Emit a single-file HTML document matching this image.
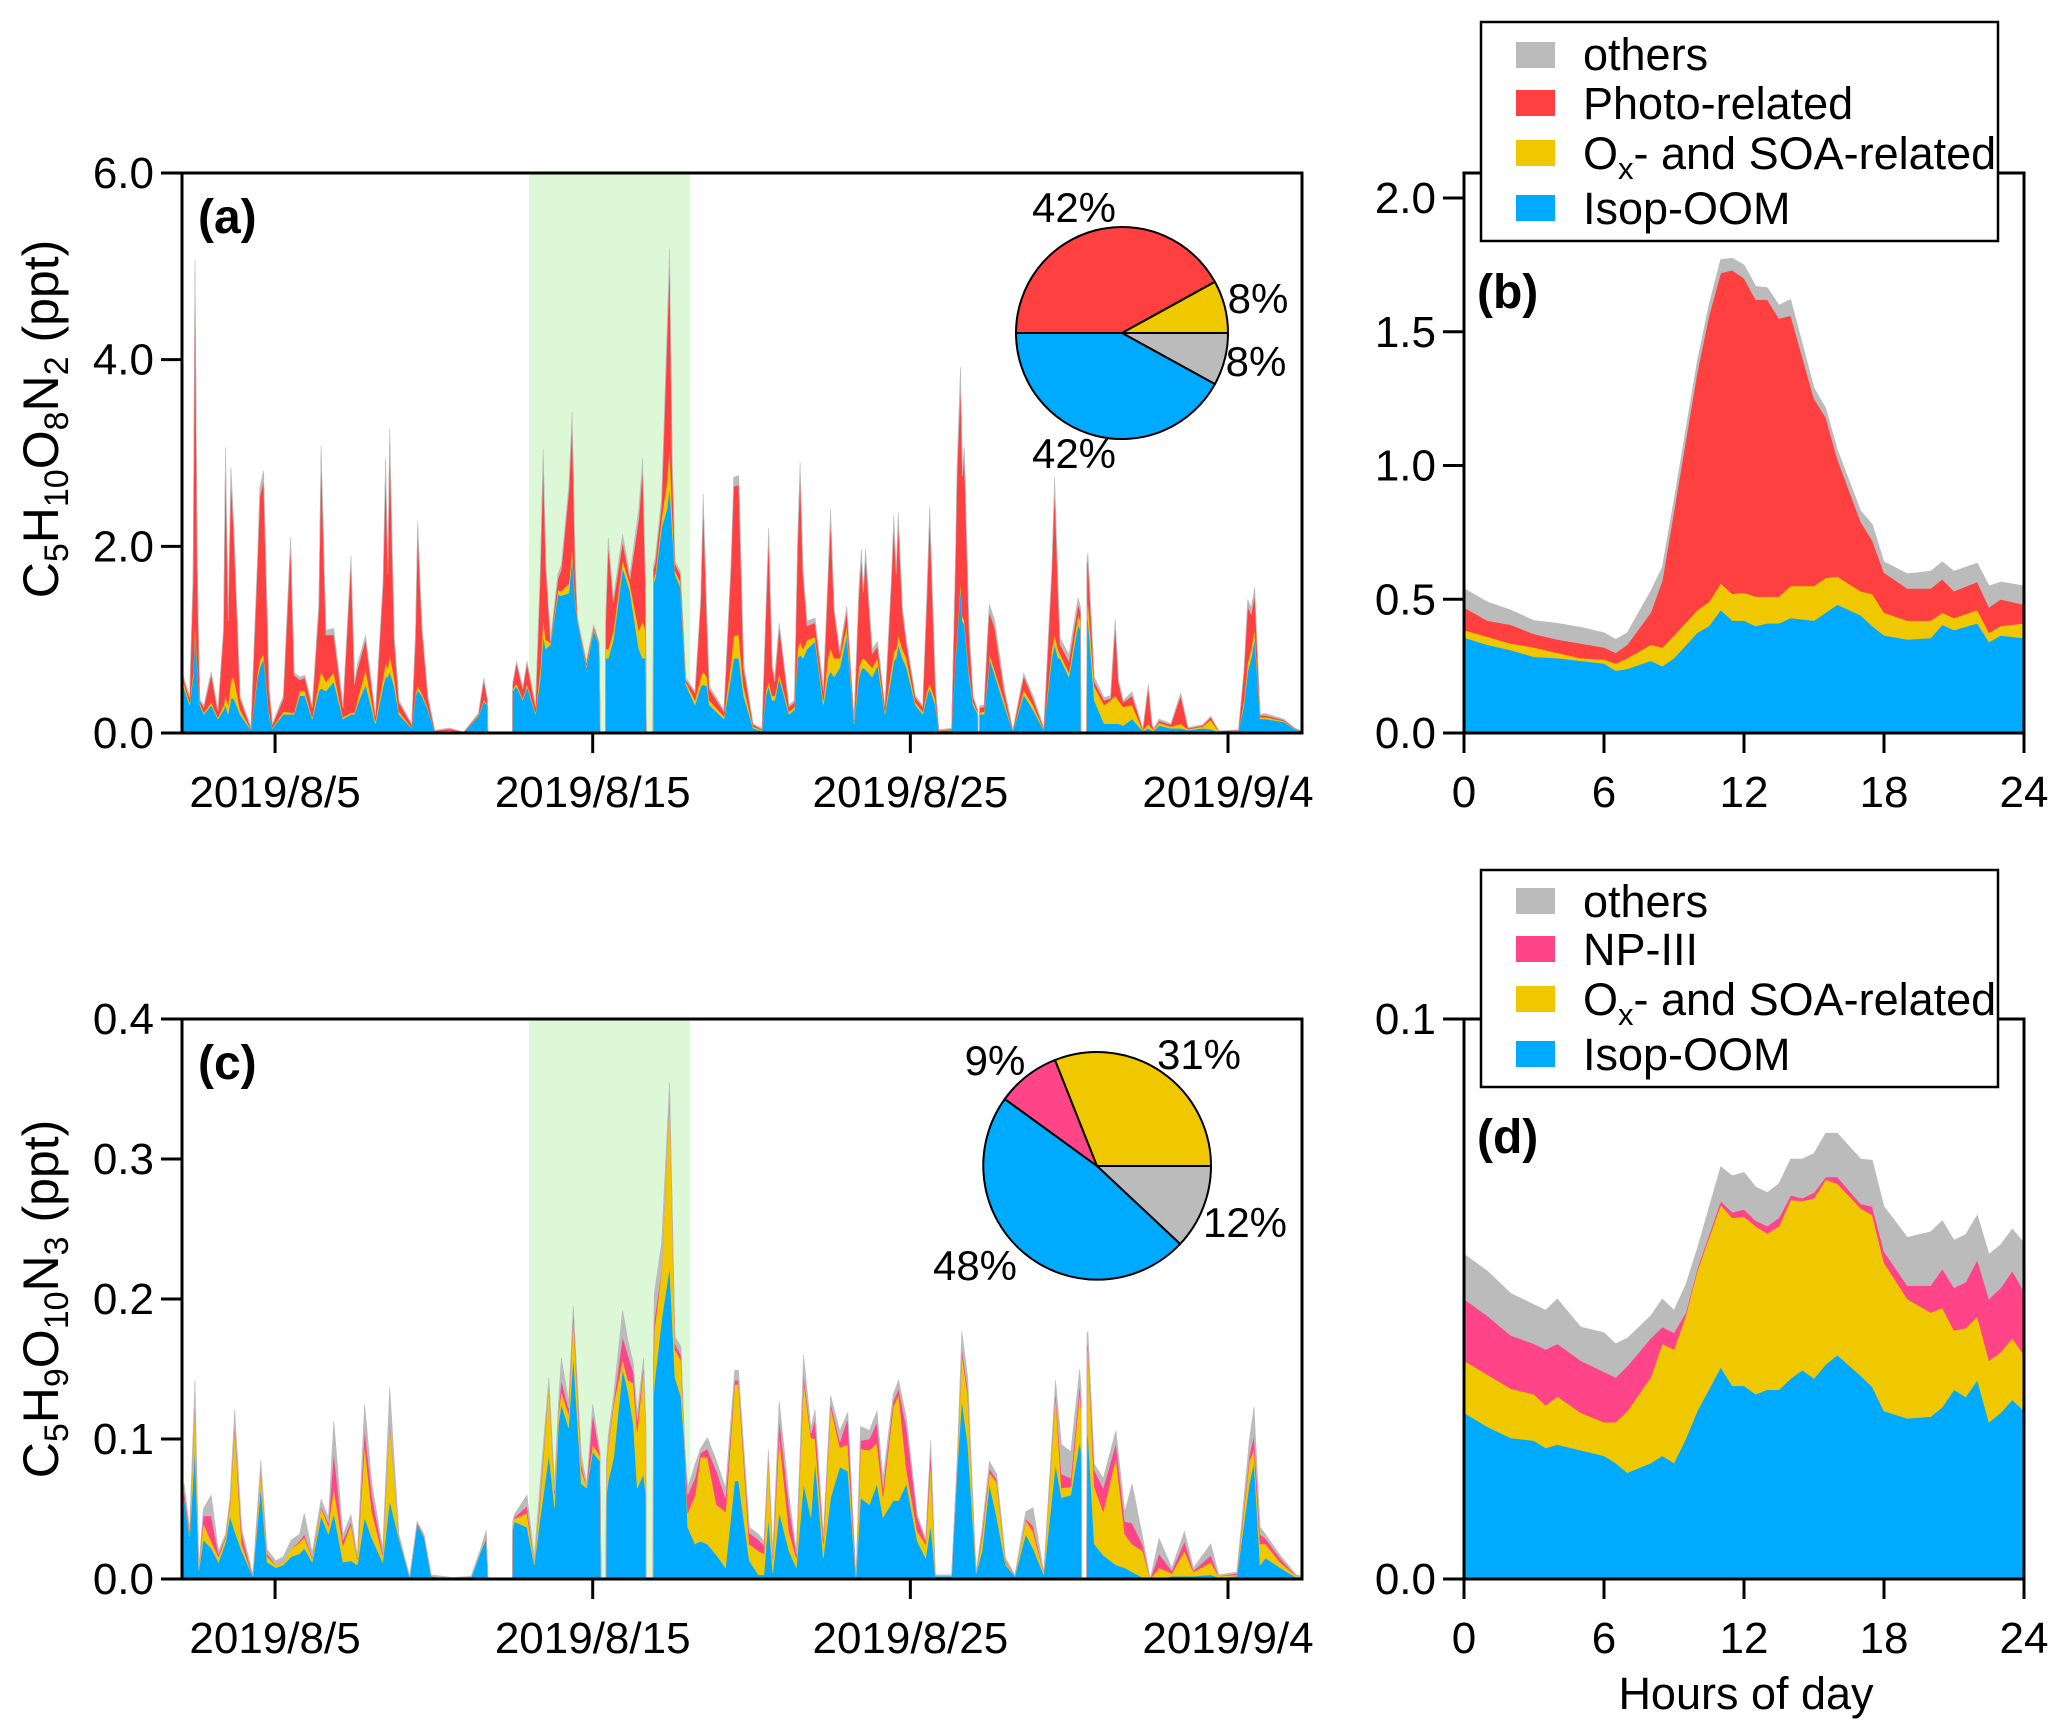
<!DOCTYPE html>
<html><head><meta charset="utf-8"><style>
html,body{margin:0;padding:0;background:#fff;}
svg{display:block;font-family:"Liberation Sans",Arial,sans-serif;}
</style></head><body>
<svg id="fig" width="2067" height="1736" viewBox="0 0 2067 1736" xmlns="http://www.w3.org/2000/svg">
<rect x="0" y="0" width="2067" height="1736" fill="#fff"/>
<g id="layer-shade"></g>
<g id="layer-areas"></g>
<g id="layer-axes" stroke="#000" stroke-width="3" fill="none"></g>
<g id="layer-text" font-size="44" fill="#000"></g>
<g id="layer-pies"></g>
<g id="layer-legends"></g>
</svg>
<script>
// ---------- Panel (a) data: days since 2019/8/2 00:00 ----------
const aT = [0.07,0.31,0.42,0.48,0.55,0.63,0.76,0.99,1.2,1.38,
1.44,1.52,1.61,1.7,1.9,2.24,2.45,2.52,2.64,2.81,
2.92,3.26,3.49,3.6,3.77,3.94,4.17,4.38,4.45,4.6,
4.85,5.14,5.39,5.5,5.59,5.85,6.16,6.4,6.48,6.55,
6.61,6.75,6.9,7.3,7.42,7.49,7.62,7.81,8.03,8.49,
8.94,9.4,9.57,9.68,9.7,10.47,10.48,10.6,10.8,10.93,
11.2,11.35,11.44,11.52,11.67,11.9,12.01,12.25,12.35,12.45,
12.52,12.8,13.03,13.2,13.24,13.4,13.41,13.49,13.65,13.94,
14.17,14.45,14.57,14.66,14.69,14.9,14.91,14.97,15.17,15.34,
15.42,15.5,15.59,15.76,15.93,16.22,16.4,16.48,16.6,16.67,
17.13,17.35,17.44,17.6,17.75,18.05,18.33,18.45,18.54,18.65,
18.73,18.87,19.18,19.35,19.45,19.53,19.62,19.75,20.0,20.26,
20.4,20.49,20.6,20.78,21.0,21.23,21.38,21.46,21.52,21.59,
21.8,21.97,22.2,22.4,22.48,22.55,22.62,22.75,22.88,23.16,
23.39,23.52,23.61,23.79,23.9,24.3,24.42,24.47,24.58,24.64,
24.7,24.85,24.98,25.12,25.14,25.17,25.18,25.32,25.45,25.49,
25.66,25.95,26.23,26.57,26.86,27.2,27.45,27.54,27.65,27.71,
27.99,28.28,28.36,28.37,28.55,28.56,28.59,28.79,29.1,29.3,
29.45,29.55,29.7,29.98,30.32,30.49,30.6,30.66,30.83,31.2,
31.51,31.74,32.2,32.46,32.71,33.33,33.5,33.62,33.73,33.84,
34.01,34.18,34.75,35.1,35.33];
const aIso = [.55,.3,.6,1.1,.7,.3,.2,.3,.15,.25,
.3,.2,.37,.37,.2,.03,.6,.7,.8,.2,
.05,.2,.2,.2,.4,.4,.15,.45,.48,.45,
.55,.15,.2,.2,.3,.52,.1,.5,.6,.6,
.66,.5,.2,.05,.4,.46,.4,.25,.01,.02,
0,.18,.34,.3,0,0,.45,.5,.35,.5,
.2,.6,1.05,.9,.95,1.48,1.47,1.5,1.9,1.4,
1.2,.7,1.1,.95,0,0,.8,.8,1.0,1.77,
1.52,.9,.8,.8,0,0,1.6,1.66,2.2,2.4,
2.65,2.2,1.7,1.56,.52,.3,.5,.52,.5,.3,
.15,.6,.8,.8,.4,.05,.02,.4,.5,.35,
.35,.59,.2,.25,.8,.84,.8,.9,.98,.3,
.6,.66,.6,.7,1.05,.1,.6,.68,.7,.68,
.6,.73,.2,.6,.77,.8,.95,.8,.7,.3,
.2,.4,.48,.3,.02,.03,.8,.98,1.59,1.2,
1.16,.6,.3,.2,0,0,.2,.2,.6,.8,
.62,.3,.02,.41,.25,.03,.8,.95,.8,.8,
.6,1.16,1.1,0,0,1.2,1.23,.35,.1,.1,
.1,.1,.08,.15,.02,.05,.03,.02,.08,.05,
.05,.03,.05,.04,.01,.02,.3,.66,.8,1.02,
.15,.15,.12,.04,.02];
const aOx = [.05,.03,.05,.11,.05,.02,.02,.03,.02,.05,
.1,.1,.2,.23,.05,.01,.05,.08,.05,.03,
.01,.03,.02,.02,.05,.05,.02,.1,.18,.1,
.1,.02,.02,.02,.05,.16,.03,.1,.15,.1,
.18,.1,.03,.01,.03,.04,.03,.02,.005,.005,
0,.01,.02,.01,0,0,.02,.03,.02,.03,
.02,.1,.18,.1,.02,.05,.05,.1,.1,.05,
.01,.02,.02,.01,0,0,.1,.1,.1,.08,
.08,.2,.4,.3,0,0,.05,.05,.1,.3,
.45,.2,.04,.06,.03,.05,.1,.14,.1,.05,
.03,.15,.24,.25,.1,.02,.01,.05,.05,.05,
.05,.05,.03,.03,.1,.14,.1,.1,.05,.05,
.2,.25,.2,.1,.1,.02,.1,.1,.1,.1,
.1,.08,.03,.1,.1,.1,.1,.1,.1,.03,
.03,.05,.05,.05,.005,.005,.05,.05,.06,.05,
.05,.05,.03,.02,0,0,.02,.03,.05,.05,
.05,.05,.005,.05,.05,.01,.1,.1,.1,.05,
.05,.1,.1,0,0,.1,.2,.15,.2,.25,
.3,.25,.2,.15,.01,.05,.02,.01,.03,.02,
.05,.01,.02,.1,.005,.005,.05,.1,.1,.1,
.02,.02,.01,.005,0];
const aPhoto = [.02,.05,1.0,3.73,1.0,.02,.06,.3,.06,.8,
2.56,.9,2.15,1.55,.12,.01,1.2,1.75,1.86,.24,
.03,.14,1.82,.4,.12,.14,.1,.8,2.32,.5,
.4,.1,1.62,.3,.33,.32,.05,1.0,2.1,1.0,
2.27,.4,.1,.03,.6,1.7,.7,.1,.01,.02,
.01,.01,.21,.05,0,0,.05,.22,.1,.22,
.06,1.0,1.71,.8,.01,.12,.23,1.0,1.34,.3,
.01,.03,.02,.01,0,0,.3,1.12,.3,.2,
.05,1.2,1.64,.5,0,0,.1,.12,.15,1.5,
1.99,.5,.07,.08,.02,.08,.8,1.8,.5,.12,
.05,1.0,1.6,1.61,.2,.02,.01,.8,1.58,.3,
.15,.5,.05,.05,1.1,1.82,.8,.15,.15,.1,
.8,1.39,.5,.05,.16,.02,.8,1.1,.7,1.1,
.15,.12,.05,.9,1.36,.8,1.21,.4,.15,.05,
.05,1.0,1.8,.12,.005,.01,1.0,1.72,2.12,1.5,
1.75,.4,.05,.02,0,0,.05,.05,.5,.45,
.45,.1,.005,.15,.07,.01,.8,1.59,.6,.1,
.12,.12,.1,0,0,.5,.45,.05,.05,.02,
.77,.2,.05,.1,.01,.4,.05,.01,.02,.02,
.3,.01,.01,.03,.005,.005,.3,.6,.37,.37,
.02,.02,.01,.005,0];
const aOthers = [.04,.02,.05,.13,.05,.02,.02,.03,.02,.03,
.1,.05,.13,.09,.03,.01,.05,.1,.1,.03,
.01,.03,.06,.03,.03,.03,.03,.05,.1,.05,
.07,.03,.06,.03,.05,.05,.02,.05,.1,.05,
.15,.05,.02,.01,.03,.07,.04,.03,.005,.01,
0,.01,.02,.01,0,0,.02,.02,.02,.02,
.02,.05,.1,.05,.01,.05,.05,.05,.1,.05,
.01,.02,.02,.01,0,0,.03,.07,.05,.08,
.05,.1,.1,.05,0,0,.05,.05,.07,.1,
.1,.1,.03,.03,.02,.02,.05,.1,.05,.03,
.02,.05,.1,.1,.05,.01,.01,.03,.07,.03,
.05,.04,.02,.02,.05,.1,.05,.05,.05,.05,
.05,.1,.05,.05,.05,.01,.05,.09,.05,.09,
.05,.05,.02,.05,.1,.05,.1,.05,.05,.02,
.02,.05,.1,.03,.005,.005,.05,.1,.15,.1,
.1,.05,.02,.01,0,0,.02,.02,.05,.08,
.08,.05,.005,.03,.03,.01,.05,.1,.05,.07,
.07,.07,.05,0,0,.05,.05,.05,.03,.03,
.05,.03,.02,.04,.01,.02,.01,.01,.02,.01,
.03,.01,.01,.01,.005,.005,.02,.07,.07,.07,
.01,.02,.01,.005,0];

// ---------- Panel (c) data ----------
const cT = [0.07,0.14,0.31,0.48,0.6,0.74,0.99,1.22,1.44,1.58,
1.73,1.95,2.3,2.55,2.75,3.03,3.26,3.51,3.77,3.92,
4.17,4.45,4.68,4.85,5.14,5.39,5.59,5.82,6.05,6.39,
6.61,6.9,7.24,7.47,7.69,7.92,8.6,9.17,9.45,9.65,
9.7,10.47,10.48,10.53,10.93,11.16,11.33,11.62,11.8,11.92,
12.01,12.24,12.39,12.64,12.81,13.0,13.23,13.26,13.42,13.43,
13.49,13.66,13.94,14.11,14.28,14.4,14.6,14.67,14.68,14.9,
14.91,14.94,15.17,15.42,15.59,15.78,15.9,15.99,16.22,16.39,
16.61,16.9,17.18,17.47,17.59,17.93,18.22,18.39,18.53,18.67,
18.87,19.18,19.41,19.64,19.87,20.0,20.26,20.49,20.78,21.03,
21.29,21.43,21.71,21.95,22.14,22.46,22.63,22.88,23.22,23.48,
23.64,23.79,24.3,24.47,24.62,24.81,25.07,25.26,25.49,25.72,
26.0,26.29,26.63,26.86,27.2,27.57,27.76,28.05,28.33,28.38,
28.39,28.55,28.56,28.59,28.79,29.07,29.47,29.75,29.98,30.32,
30.55,30.83,31.23,31.63,31.91,32.46,32.71,33.28,33.67,33.82,
34.01,34.18,34.64,35.15,35.33];
const cIso = [.04,.058,.03,.094,.006,.028,.022,.012,.026,.045,
.034,.02,.002,.066,.012,.008,.01,.016,.018,.022,
.012,.045,.032,.047,.012,.013,.01,.044,.029,.012,
.056,.029,.001,.039,.03,.002,0,.001,.018,.029,
0,0,.035,.041,.037,.01,.041,.089,.051,.11,
.125,.108,.16,.068,.065,.091,.084,0,0,.06,
.07,.087,.15,.134,.11,.065,.075,.06,0,0,
.13,.139,.185,.223,.144,.13,.091,.037,.025,.027,
.025,.017,.008,.07,.07,.013,.003,.003,.044,.004,
.048,.02,.008,.068,.044,.084,.015,.058,.08,.077,
0,.058,.053,.068,.044,.056,.056,.068,.027,.015,
.039,.002,.002,.077,.128,.096,.004,.02,.068,.044,
.01,.002,.032,.022,.003,.082,.058,.06,.099,.09,
0,0,.1,.105,.025,.017,.01,.008,.005,.001,
0,0,.002,.002,.002,.003,.001,.002,.068,.084,
.01,.015,.008,.001,.001];
const cOx = [.005,0,.002,.031,.001,.012,.005,.004,.003,.008,
.074,.005,0,.011,.004,.002,.002,.006,.008,.008,
.003,.006,.006,.018,.012,.026,.004,.052,.019,.005,
.056,.002,0,0,.001,0,0,0,0,.002,
0,0,.003,.002,.01,.002,.012,.05,.01,.008,
.009,.01,.028,.01,.001,.005,.004,0,0,.02,
.025,.038,.007,.008,.03,.04,.076,.05,0,0,
.02,.038,.035,.122,.02,.026,.001,.01,.035,.06,
.062,.036,.04,.069,.069,.012,.017,.015,.044,.01,
.055,.014,.007,.074,.057,.016,.01,.065,.014,.019,
0,.035,.039,.029,.015,.067,.076,.01,.007,.01,
.045,0,0,.002,.033,.035,0,.01,.008,.025,
.002,0,.01,.012,.001,.05,.007,.006,.035,.03,
0,0,.06,.063,.041,.031,.077,.024,.02,.019,
0,.008,.002,.018,.003,.009,.001,.001,.016,.009,
.015,.01,.004,.001,0];
const cNP = [.01,.005,.002,.003,0,.005,.018,.002,.001,.002,
.003,.007,0,.002,.002,0,0,0,.001,.002,
.001,.001,.002,.026,.004,.002,.001,.012,.012,.002,
.002,0,0,.001,0,0,0,0,0,0,
0,0,0,.001,.005,0,.004,.001,.002,.002,
.008,.004,.004,.004,0,.022,.001,0,0,0,
.002,.002,.016,.018,.008,.008,.002,0,0,0,
.005,.008,0,.002,.004,.004,.001,.013,.012,.003,
.006,.024,.01,.003,.003,.008,.008,.006,.001,.003,
.012,.018,.003,.005,.003,.014,.004,.003,.004,.019,
0,.006,.008,.015,.006,.004,.004,.03,.01,.002,
.01,0,0,.001,.004,.004,0,.003,.003,.002,
.001,0,.001,.004,0,.003,.01,.006,.006,.005,
0,0,.005,.002,.012,.017,.01,.009,.015,.004,
0,.01,.002,.007,.001,.005,0,.001,.004,.01,
.007,.004,.003,0,0];
const cOthers = [.005,.005,.002,.014,.001,.005,.015,.002,.002,.003,
.01,.004,.001,.006,.003,.003,.004,.006,.005,.015,
.003,.005,.004,.022,.004,.005,.002,.017,.008,.003,
.023,.001,.001,.001,.001,.001,.001,.001,.002,.004,
0,0,.003,.002,.008,.003,.008,.004,.005,.005,
.016,.005,.003,.007,.002,.007,.002,0,0,.005,
.006,.005,.019,.01,.006,.005,.005,.004,0,0,
.01,.019,.02,.008,.005,.006,.001,.005,.01,.003,
.008,.007,.007,.007,.007,.004,.004,.003,.003,.003,
.012,.008,.002,.013,.004,.007,.003,.005,.008,.004,
0,.01,.006,.008,.007,.005,.006,.007,.002,.002,
.005,.001,.001,.002,.012,.009,.001,.004,.005,.004,
.002,.001,.005,.013,.001,.007,.021,.019,.01,.01,
0,0,.01,.007,.004,.007,.009,.007,.028,.005,
0,.011,.002,.007,.002,.008,.001,.001,.011,.02,
.005,.003,.002,.001,.001];

// ---------- Panel (b) diurnal data ----------
const bHour = [0,1,2,3,4,5,6,6.5,7,8,8.5,9,10,10.5,11,11.5,12,12.5,13,13.5,14,15,15.5,16,17,17.5,18,19,20,20.5,21,22,22.5,23,24];
const bIso = [.357,.33,.31,.285,.28,.27,.26,.233,.24,.27,.25,.28,.375,.40,.46,.42,.42,.40,.41,.41,.43,.42,.45,.48,.44,.40,.365,.35,.355,.405,.385,.41,.34,.365,.355];
const bOx = [.028,.03,.025,.035,.02,.01,.015,.027,.04,.06,.07,.085,.085,.09,.10,.10,.105,.11,.10,.10,.12,.13,.13,.105,.09,.12,.085,.07,.065,.045,.045,.05,.035,.035,.055];
const bPhoto = [.085,.06,.07,.05,.05,.055,.045,.04,.05,.12,.25,.465,.89,1.07,1.16,1.21,1.175,1.11,1.11,1.04,1.01,.70,.60,.44,.26,.20,.15,.12,.12,.125,.10,.105,.095,.10,.07];
const bOthers = [.07,.07,.055,.05,.06,.06,.055,.05,.045,.08,.05,.04,.04,.04,.05,.045,.05,.05,.045,.05,.06,.04,.035,.035,.04,.06,.04,.055,.065,.065,.075,.07,.08,.065,.07];

// ---------- Panel (d) diurnal data ----------
const dHour = [0,1,2,3,3.5,4,5,6,6.5,7,8,8.5,9,9.5,10,11,11.5,12,12.5,13,13.5,14,14.5,15,15.5,16,17,17.5,18,19,20,20.5,21,21.5,22,22.5,23,23.5,24];
const dIso = [.0297,.0272,.0252,.0247,.0234,.024,.023,.022,.0207,.019,.0207,.022,.0207,.025,.030,.0378,.0345,.0345,.033,.0338,.0338,.0358,.0373,.0358,.0383,.040,.0363,.0343,.030,.0287,.029,.0307,.0338,.0325,.0355,.028,.0297,.032,.030];
const dOx = [.0093,.0093,.0088,.0083,.0076,.0086,.0067,.006,.0073,.011,.0153,.02,.0203,.022,.025,.029,.03,.0302,.03,.0279,.0292,.0319,.0302,.0322,.033,.0306,.0299,.0307,.0265,.0213,.0186,.0177,.0106,.0123,.0114,.011,.0108,.011,.010];
const dNP = [.011,.0105,.0095,.009,.01,.0094,.0093,.009,.008,.008,.007,.003,.003,.0005,.0004,.0007,.001,.0013,.001,.0013,.0015,.0008,.0005,.001,.0005,.0012,.0008,.0015,.002,.0024,.0048,.007,.0076,.0082,.0101,.011,.0115,.012,.0114];
const dOthers = [.008,.008,.0075,.007,.007,.008,.006,.007,.006,.005,.004,.005,.004,.005,.0036,.0061,.0065,.0066,.006,.006,.0061,.0065,.007,.007,.0078,.0078,.008,.0083,.008,.0086,.0096,.0086,.0085,.0085,.008,.008,.0077,.0075,.0086];

// ---------- Pie data ----------
const pieALabels = ['Photo-related','Ox- and SOA-related','others','Isop-OOM'];
const pieAValues = [42,8,8,42];
const pieCLabels = ['others','Isop-OOM','NP-III','Ox- and SOA-related'];
const pieCValues = [12,48,9,31];

// ---------- Tick labels ----------
const dateTickDays = [3,13,23,33];
const dateTickLabels = ['2019/8/5','2019/8/15','2019/8/25','2019/9/4'];
const aYTicks = [0,2,4,6];
const cYTicks = [0,0.1,0.2,0.3,0.4];
const bYTicks = [0,0.5,1.0,1.5,2.0];
const dYTicks = [0,0.1];
const hourTicks = [0,6,12,18,24];
const shadeDays = [11.0,16.07];

// ---------- Layout / scales ----------
const COL = {iso:'#00aaff', ox:'#f0c800', photo:'#ff4040', np:'#ff4488', oth:'#bbbbbb'};
const NS = 'http://www.w3.org/2000/svg';
const L = {x0:182, x1:1302, aTop:173, aBot:733, cTop:1019, cBot:1579, hx0:1464, hx1:2024};
const tMin = 0.07, tMax = 35.33;
function xT(t){ return L.x0 + (t - tMin)/(tMax - tMin)*(L.x1 - L.x0); }
function yA(v){ return L.aBot - v/6*(L.aBot - L.aTop); }
function yC(v){ return L.cBot - v/0.4*(L.cBot - L.cTop); }
function xH(h){ return L.hx0 + h/24*(L.hx1 - L.hx0); }
function yB(v){ return L.aBot - v/2.0*535; }
function yD(v){ return L.cBot - v/0.1*(L.cBot - L.cTop); }

function mk(tag, attrs, parent){
  const e = document.createElementNS(NS, tag);
  for (const k in attrs) e.setAttribute(k, attrs[k]);
  if (parent) parent.appendChild(e);
  return e;
}
const gShade = document.getElementById('layer-shade');
const gAreas = document.getElementById('layer-areas');
const gAxes = document.getElementById('layer-axes');
const gText = document.getElementById('layer-text');
const gPies = document.getElementById('layer-pies');

[[L.aTop,L.aBot,'a'],[L.cTop,L.cBot,'c']].forEach(p=>{
  const r = mk('rect',{x:xT(shadeDays[0]), y:p[0], width:xT(shadeDays[1])-xT(shadeDays[0]), height:p[1]-p[0], fill:'#dcf8d6'}, gShade);
  
  
});

function stack(xs, layers, colors, names, xf, yf, panel){
  const n = Math.min(xs.length, ...layers.map(l=>l.length));
  let base = new Array(n).fill(0);
  layers.forEach((layer, li)=>{
    const top = [];
    for (let i=0;i<n;i++) top.push(base[i] + layer[i]);
    let d = '';
    for (let i=0;i<n;i++) d += (i?'L':'M') + xf(xs[i]).toFixed(1) + ',' + yf(top[i]).toFixed(1);
    for (let i=n-1;i>=0;i--) d += 'L' + xf(xs[i]).toFixed(1) + ',' + yf(base[i]).toFixed(1);
    d += 'Z';
    const p = mk('path',{d:d, fill:colors[li], stroke:colors[li], 'stroke-width':0.6}, gAreas);
    
    
    base = top;
  });
}
stack(aT,[aIso,aOx,aPhoto,aOthers],[COL.iso,COL.ox,COL.photo,COL.oth],['isop-oom','ox-soa','photo','others'],xT,yA,'a');
stack(cT,[cIso,cOx,cNP,cOthers],[COL.iso,COL.ox,COL.np,COL.oth],['isop-oom','ox-soa','np-iii','others'],xT,yC,'c');
stack(bHour,[bIso,bOx,bPhoto,bOthers],[COL.iso,COL.ox,COL.photo,COL.oth],['isop-oom','ox-soa','photo','others'],xH,yB,'b');
stack(dHour,[dIso,dOx,dNP,dOthers],[COL.iso,COL.ox,COL.np,COL.oth],['isop-oom','ox-soa','np-iii','others'],xH,yD,'d');

function frame(x0,x1,y0,y1,name){
  const r = mk('rect',{x:x0,y:y0,width:x1-x0,height:y1-y0}, gAxes);
  
  
}
frame(L.x0,L.x1,L.aTop,L.aBot,'frame-a');
frame(L.x0,L.x1,L.cTop,L.cBot,'frame-c');
frame(L.hx0,L.hx1,L.aTop,L.aBot,'frame-b');
frame(L.hx0,L.hx1,L.cTop,L.cBot,'frame-d');

function text(x,y,str,anchor,name,size){
  const t = mk('text',{x:x,y:y,'text-anchor':anchor||'middle'}, gText);
  if (size) t.setAttribute('font-size', size);
  t.textContent = str;
  
  
  return t;
}
function yTicks(vals, yf, xAxis, panel, fmt){
  vals.forEach(v=>{
    const y = yf(v);
    const l = mk('line',{x1:xAxis-21,x2:xAxis,y1:y,y2:y}, gAxes);
    
    
    text(xAxis-28, y+15, fmt(v), 'end', 'y-tick-label-' + panel);
  });
}
yTicks(aYTicks, yA, L.x0, 'a', v=>v.toFixed(1));
yTicks(cYTicks, yC, L.x0, 'c', v=>v.toFixed(1));
yTicks(bYTicks, yB, L.hx0, 'b', v=>v.toFixed(1));
yTicks(dYTicks, yD, L.hx0, 'd', v=>v.toFixed(1));

function xTicks(vals, labels, xf, yAxis, panel){
  vals.forEach((v,i)=>{
    const x = xf(v);
    const l = mk('line',{x1:x,x2:x,y1:yAxis,y2:yAxis+20}, gAxes);
    
    
    text(x, yAxis+74, labels[i], 'middle', 'x-tick-label-' + panel);
  });
}
xTicks(dateTickDays, dateTickLabels, xT, L.aBot, 'a');
xTicks(dateTickDays, dateTickLabels, xT, L.cBot, 'c');
xTicks(hourTicks, hourTicks.map(String), xH, L.aBot, 'b');
xTicks(hourTicks, hourTicks.map(String), xH, L.cBot, 'd');

function pie(cx, cy, r, values, colors, startDeg, names, panel){
  const total = values.reduce((s,v)=>s+v,0);
  let a = startDeg;
  values.forEach((v,i)=>{
    const a2 = a + v/total*360;
    const r1 = a*Math.PI/180, r2 = a2*Math.PI/180;
    const large = (a2-a) > 180 ? 1 : 0;
    const d = 'M'+cx+','+cy+' L'+(cx+r*Math.cos(r1)).toFixed(1)+','+(cy+r*Math.sin(r1)).toFixed(1)+
      ' A'+r+','+r+' 0 '+large+' 1 '+(cx+r*Math.cos(r2)).toFixed(1)+','+(cy+r*Math.sin(r2)).toFixed(1)+' Z';
    const p = mk('path',{d:d, fill:colors[i], stroke:'#000', 'stroke-width':2}, gPies);
    
    
    a = a2;
  });
}
pie(1122, 333, 106, pieAValues, [COL.photo,COL.ox,COL.oth,COL.iso], 180, ['photo','ox-soa','others','isop-oom'], 'a');
pie(1097, 1166, 114, pieCValues, [COL.oth,COL.iso,COL.np,COL.ox], 0, ['others','isop-oom','np-iii','ox-soa'], 'c');
</script>

<svg style="position:absolute;left:0;top:0" width="2067" height="1736" viewBox="0 0 2067 1736" xmlns="http://www.w3.org/2000/svg" font-family="Liberation Sans, Arial, sans-serif">
  <text x="198" y="233" font-size="48" font-weight="bold">(a)</text>
  <text x="1477" y="308" font-size="48" font-weight="bold">(b)</text>
  <text x="198" y="1079" font-size="48" font-weight="bold">(c)</text>
  <text x="1477" y="1153" font-size="48" font-weight="bold">(d)</text>
  <text x="1074" y="222" font-size="42" text-anchor="middle">42%</text>
  <text x="1258" y="313" font-size="42" text-anchor="middle">8%</text>
  <text x="1256" y="376" font-size="42" text-anchor="middle">8%</text>
  <text x="1074" y="468" font-size="42" text-anchor="middle">42%</text>
  <text x="995" y="1075" font-size="42" text-anchor="middle">9%</text>
  <text x="1199" y="1069" font-size="42" text-anchor="middle">31%</text>
  <text x="1245" y="1237" font-size="42" text-anchor="middle">12%</text>
  <text x="975" y="1280" font-size="42" text-anchor="middle">48%</text>
  <text transform="translate(58,419) rotate(-90)" text-anchor="middle" font-size="50">C<tspan font-size="34" dy="10">5</tspan><tspan dy="-10">H</tspan><tspan font-size="34" dy="10">10</tspan><tspan dy="-10">O</tspan><tspan font-size="34" dy="10">8</tspan><tspan dy="-10">N</tspan><tspan font-size="34" dy="10">2</tspan><tspan dy="-10"> (ppt)</tspan></text>
  <text transform="translate(58,1299) rotate(-90)" text-anchor="middle" font-size="50">C<tspan font-size="34" dy="10">5</tspan><tspan dy="-10">H</tspan><tspan font-size="34" dy="10">9</tspan><tspan dy="-10">O</tspan><tspan font-size="34" dy="10">10</tspan><tspan dy="-10">N</tspan><tspan font-size="34" dy="10">3</tspan><tspan dy="-10"> (ppt)</tspan></text>
  <text x="1746" y="1709" font-size="45" text-anchor="middle">Hours of day</text>

  <g>
    <rect x="1481" y="22" width="517" height="219" fill="#fff" stroke="#000" stroke-width="2.5"/>
    <rect x="1516" y="42" width="39" height="26" fill="#bbbbbb"/>
    <text x="1583" y="70" font-size="45">others</text>
    <rect x="1516" y="90" width="39" height="26" fill="#ff4040"/>
    <text x="1583" y="119" font-size="45">Photo-related</text>
    <rect x="1516" y="140" width="39" height="26" fill="#f0c800"/>
    <text x="1583" y="169" font-size="45">O<tspan font-size="31" dy="10">x</tspan><tspan dy="-10">- and SOA-related</tspan></text>
    <rect x="1516" y="195" width="39" height="26" fill="#00aaff"/>
    <text x="1583" y="224" font-size="45">Isop-OOM</text>
  </g>
  <g>
    <rect x="1481" y="870" width="517" height="217" fill="#fff" stroke="#000" stroke-width="2.5"/>
    <rect x="1516" y="888" width="39" height="26" fill="#bbbbbb"/>
    <text x="1583" y="917" font-size="45">others</text>
    <rect x="1516" y="936" width="39" height="26" fill="#ff4488"/>
    <text x="1583" y="965" font-size="45">NP-III</text>
    <rect x="1516" y="986" width="39" height="26" fill="#f0c800"/>
    <text x="1583" y="1015" font-size="45">O<tspan font-size="31" dy="10">x</tspan><tspan dy="-10">- and SOA-related</tspan></text>
    <rect x="1516" y="1041" width="39" height="26" fill="#00aaff"/>
    <text x="1583" y="1070" font-size="45">Isop-OOM</text>
  </g>
</svg>
</body></html>
